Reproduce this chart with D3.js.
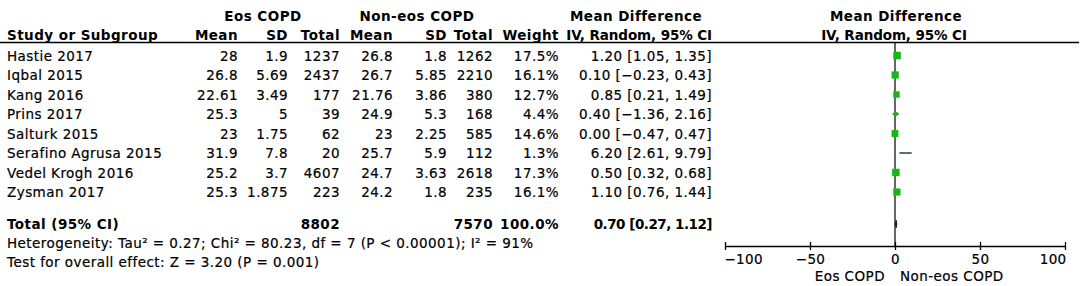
<!DOCTYPE html>
<html><head><meta charset="utf-8">
<script src="https://cdn.jsdelivr.net/npm/d3@7"></script>
<style>
html,body{margin:0;padding:0;background:#fff;}
svg text{font-family:"DejaVu Sans",sans-serif;font-size:13.5px;letter-spacing:0.45px;fill:#000;stroke:#000;stroke-width:0.2px;}
svg text.b{font-weight:bold;stroke-width:0;}
svg text.bh{letter-spacing:-0.1px;}
svg text.bn{letter-spacing:-0.5px;}
</style></head>
<body><svg id="c" width="1084" height="286"></svg>
<script>
const studies = ["Hastie 2017","Iqbal 2015","Kang 2016","Prins 2017","Salturk 2015","Serafino Agrusa 2015","Vedel Krogh 2016","Zysman 2017"];
const eosMean = ["28","26.8","22.61","25.3","23","31.9","25.2","25.3"];
const eosSD = ["1.9","5.69","3.49","5","1.75","7.8","3.7","1.875"];
const eosTotal = [1237,2437,177,39,62,20,4607,223];
const nonMean = ["26.8","26.7","21.76","24.9","23","25.7","24.7","24.2"];
const nonSD = ["1.8","5.85","3.86","5.3","2.25","5.9","3.63","1.8"];
const nonTotal = [1262,2210,380,168,585,112,2618,235];
const weights = [17.5,16.1,12.7,4.4,14.6,1.3,17.3,16.1];
const md = [1.20,0.10,0.85,0.40,0.00,6.20,0.50,1.10];
const ciLo = [1.05,-0.23,0.21,-1.36,-0.47,2.61,0.32,0.76];
const ciHi = [1.35,0.43,1.49,2.16,0.47,9.79,0.68,1.44];
const totalEos = 8802, totalNon = 7570, totalWeight = 100.0;
const totalMD = 0.70, totalLo = 0.27, totalHi = 1.12;
const axisTicks = [-100,-50,0,50,100];
const heterogeneity = "Heterogeneity: Tau² = 0.27; Chi² = 80.23, df = 7 (P < 0.00001); I² = 91%";
const overall = "Test for overall effect: Z = 3.20 (P = 0.001)";

const svg = d3.select("#c");
const f2 = v => (v < 0 ? "\u2212" : "") + Math.abs(v).toFixed(2);
const ciTxt = (m,l,h) => `${f2(m)} [${f2(l)}, ${f2(h)}]`;

const rowY = d3.scaleLinear().domain([0,1]).range([60.5,80]);
const x = d3.scaleLinear().domain([-100,100]).range([725,1065]);
const size = d3.scaleSqrt().domain([0,17.5]).range([0,7.5]);

function txt(xp,yp,s,anchor,cls){
  return svg.append("text").attr("x",xp).attr("y",yp).attr("text-anchor",anchor||"start")
    .attr("class",cls||null).text(s);
}
// headers
txt(263,20.5,"Eos COPD","middle","b");
txt(417,20.5,"Non-eos COPD","middle","b");
txt(636,20.5,"Mean Difference","middle","b");
txt(896,20.5,"Mean Difference","middle","b");
txt(7,39.5,"Study or Subgroup","start","b");
txt(238,39.5,"Mean","end","b");
txt(288,39.5,"SD","end","b");
txt(340,39.5,"Total","end","b");
txt(393,39.5,"Mean","end","b");
txt(447,39.5,"SD","end","b");
txt(493,39.5,"Total","end","b");
txt(559,39.5,"Weight","end","b");
txt(712,39.5,"IV, Random, 95% CI","end","b bh");
txt(894,39.5,"IV, Random, 95% CI","middle","b bh");
svg.append("line").attr("x1",0).attr("x2",1079).attr("y1",42.5).attr("y2",42.5).attr("stroke","#000").attr("stroke-width",1.3);

// rows
studies.forEach((s,i)=>{
  const y = rowY(i);
  txt(7,y,s);
  txt(238,y,eosMean[i],"end");
  txt(288,y,eosSD[i],"end");
  txt(340,y,eosTotal[i],"end");
  txt(393,y,nonMean[i],"end");
  txt(447,y,nonSD[i],"end");
  txt(493,y,nonTotal[i],"end");
  txt(559,y,weights[i].toFixed(1)+"%","end");
  txt(712,y,ciTxt(md[i],ciLo[i],ciHi[i]),"end");
});

// zero line
svg.append("line").attr("x1",x(0)).attr("x2",x(0)).attr("y1",42.5).attr("y2",246).attr("stroke","#000").attr("stroke-width",1.2);

// CI + squares
const g = svg.append("g");
g.selectAll("line.ci").data(studies).join("line").attr("class","ci")
  .attr("x1",(d,i)=>x(ciLo[i])).attr("x2",(d,i)=>x(ciHi[i]))
  .attr("y1",(d,i)=>rowY(i)-5).attr("y2",(d,i)=>rowY(i)-5)
  .attr("stroke","#000").attr("stroke-width",1.2);
g.selectAll("rect").data(studies).join("rect")
  .attr("x",(d,i)=>x(md[i])-size(weights[i])/2)
  .attr("y",(d,i)=>rowY(i)-5-size(weights[i])/2)
  .attr("width",(d,i)=>size(weights[i])).attr("height",(d,i)=>size(weights[i]))
  .attr("fill","#14b814");

// total row
const ty = 229;
txt(7,ty,"Total (95% CI)","start","b");
txt(340,ty,totalEos,"end","b");
txt(493,ty,totalNon,"end","b");
txt(559,ty,totalWeight.toFixed(1)+"%","end","b");
txt(712,ty,ciTxt(totalMD,totalLo,totalHi),"end","b bn");
const dy = ty-5;
svg.append("polygon").attr("points",[[x(totalLo),dy],[x(totalMD),dy-4],[x(totalHi),dy],[x(totalMD),dy+4]].map(p=>p.join(",")).join(" "))
  .attr("fill","#000").attr("stroke","#000").attr("stroke-width",0.6);

txt(7,248,heterogeneity);
txt(7,267,overall);

// axis
const ax = svg.append("g").attr("transform","translate(0,246)")
  .call(d3.axisBottom(x).tickValues(axisTicks).tickSize(4).tickSizeOuter(0).tickFormat(d3.format("d")));
ax.select(".domain").attr("stroke","#000").attr("stroke-width",1.3);
ax.selectAll(".tick line").attr("y1",-4).attr("y2",4).attr("stroke","#000").attr("stroke-width",1.3);
ax.selectAll(".tick text").attr("y",8).attr("dy","0.71em")
  .style("font-size","13.5px").style("font-family","DejaVu Sans, sans-serif").style("letter-spacing","0.3px")
  .attr("fill","#000").attr("stroke","#000").attr("stroke-width",0.2)
  .attr("text-anchor",(d,i,n)=> i===0 ? "start" : (i===n.length-1 ? "end" : "middle"))
  .attr("x",(d,i,n)=> i===0 ? -1 : (i===n.length-1 ? 1 : 0));
txt(885,281,"Eos COPD","end");
txt(900,281,"Non-eos COPD","start");
</script></body></html>
